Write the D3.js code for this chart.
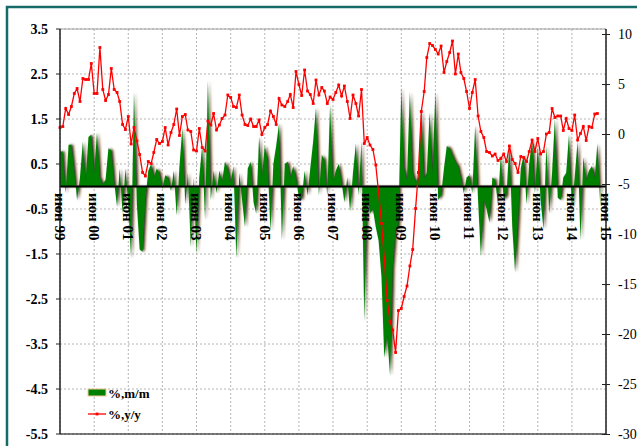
<!DOCTYPE html>
<meta charset="utf-8">
<html>
<body style="margin:0; background-color: white;">
<script src="https://d3js.org/d3.v7.min.js"></script>
<div id="chart"></div>
<script>

// first month of both series: June 1999
var startYear = 1999, startMonth = 5;

// %, m/m (left axis)
var mm = [0.78, 0.78, -0.15, 0.93, 0.93, 0.35, -0.3, 0.2, 1.0, 0.1,
  1.1, 1.15, 0.3, 1.2, 0.2, 0.05, 0.15, 0.85, 0.8, 0.1,
  -0.45, 0.4, -0.6, 0.4, -0.4, -1.6, 2.1, -0.4, -1.4, -1.45,
  -0.3, 0.35, 0.5, 0.2, 0.4, 0.3, -0.05, 0.25, 0.2, -0.1,
  0.35, -0.65, 0.45, 1.3, -0.4, 0.3, -1.35, 0.2, -1.5, 0.2,
  0.9, -0.75, 2.35, -0.3, 0.35, -0.15, 0.35, 0.1, 0.55, 0.4,
  0.1, 0.45, -1.6, 0.3, -0.3, -0.9, 0.4, 0.55, -0.35, -0.6,
  1.1, 0.2, 0.9, 0.6, -1.0, 0.5, 0.9, 1.4, -1.2, 0.5,
  0.55, 0.2, 0.45, 0.2, -0.25, -0.3, 0.35, -0.2, 0.4, 1.0,
  1.75, -0.2, 0.7, 0.6, -0.2, 1.8, 0.1, 0.35, 0.5, 0.1,
  -0.35, 0.2, -0.55, 0.3, 0.95, -0.2, 1.0, -3.0, -0.2, -0.6,
  -0.5, -0.9, -1.2, -2.0, -3.8, -3.3, -4.2, -1.8, -0.95, -0.9,
  2.2, 0.4, 0.15, 2.1, 0.3, 0.1, 0.2, 1.75, 0.2, 0.3,
  1.65, 0.3, 2.1, -0.3, -0.2, 0.4, 0.9, 0.85, 0.7, 0.55,
  0.45, 0.2, -0.15, 0.2, 0.25, -0.15, 1.35, -0.3, -1.55, -0.3,
  -0.5, -0.8, 0.2, 0.15, -0.4, 0.7, -0.3, -0.2, 0.95, -0.9,
  -1.9, -0.8, 0.4, 0.7, -0.4, 0.5, 1.05, -0.15, 0.9, -0.3,
  -0.95, 0.9, -0.6, 0.3, 1.5, -0.25, -0.3, 0.2, 0.3, 1.15,
  -0.5, 0.2, 1.0, -1.2, 0.65, 0.15, 0.35, 0.45, 0.2, 0.95,
  -0.45];

// %, y/y (right axis)
var yy = [0.7, 0.8, 2.6, 2.0, 2.8, 4.1, 4.6, 3.3, 5.6, 5.5,
  5.5, 7.1, 4.1, 4.1, 8.7, 4.5, 3.4, 4.0, 6.6, 4.5,
  4.2, 3.3, 1.0, 0.5, 1.8, -0.95, 0.7, -0.65, -2.0, -3.8,
  -4.15, -2.7, -2.9, -1.8, -0.5, -0.9, -0.7, 0.7, -1.05, 0.2,
  1.0, 2.55, -0.1, 1.8, 2.0, 0.45, 0.3, -1.55, -1.65, 0.6,
  -1.3, -1.65, 1.35, 0.95, 2.1, 0.45, 0.95, 1.6, 1.95, 3.95,
  3.7, 2.8, 2.7, 3.95, 1.95, 1.0, 0.9, 1.55, 0.8, 0.8,
  1.45, 0.0, 0.7, 1.0, 2.35, 1.8, 1.0, 3.6, 2.95, 2.8,
  3.3, 4.0, 2.7, 6.3, 5.0, 3.9, 6.45, 4.35, 4.0, 3.1,
  5.45, 3.95, 4.7, 4.35, 3.1, 3.75, 3.5, 4.2, 4.95, 3.85,
  4.85, 3.3, 1.6, 3.95, 3.1, 1.85, 4.5, -0.9, -0.3, -1.05,
  -1.5, -3.05, -5.8, -8.9, -12.4, -16.6, -18.7, -19.55, -21.8, -17.6,
  -17.4, -16.2, -15.15, -13.15, -11.5, -7.4, -3.8, 2.3, 4.3, 7.7,
  9.1, 8.9, 8.5, 8.05, 8.85, 6.2, 7.3, 8.2, 9.35, 6.05,
  8.05, 6.2, 5.6, 4.3, 2.6, 4.2, 5.5, 1.85, 0.3, -0.3,
  -1.7, -1.8, -2.15, -1.95, -2.6, -2.4, -1.95, -2.7, -1.15, -2.5,
  -2.9, -3.8, -2.2, -2.3, -2.7, -1.7, -0.55, -1.7, -0.4, -1.95,
  -1.7, 0.05, 0.2, 2.6, 1.7, 1.85, 1.85, 0.4, 1.6, 0.6,
  0.4, 1.95, -0.55, 0.1, 0.8, -0.6, 0.8, 0.7, 2.05, 2.1];

var leftTicks = [3.5, 2.5, 1.5, 0.5, -0.5, -1.5, -2.5, -3.5, -4.5, -5.5];
var rightTicks = [10, 5, 0, -5, -10, -15, -20, -25, -30];
var xLabels = ["июн 99", "июн 00", "июн 01", "июн 02", "июн 03", "июн 04", "июн 05",
  "июн 06", "июн 07", "июн 08", "июн 09", "июн 10", "июн 11", "июн 12",
  "июн 13", "июн 14", "июн 15"];

var W = 637, H = 446;
var pL = 60, pR = 606, pT = 29, pB = 434;
var serif = "'Liberation Serif', 'Times New Roman', serif";

var svg = d3.select("#chart").append("svg")
  .attr("width", W).attr("height", H)
  .style("display", "block");

var month = function(i) { return new Date(startYear, startMonth + i, 1); };

var x = d3.scaleTime()
  .domain([month(0), month(192)])
  .range([pL, pR]);
var yL = d3.scaleLinear().domain([-5.5, 3.5]).range([pB, pT]);
var yR = d3.scaleLinear().domain([-30, 10]).range([434.5, 34.5]);

// frame
svg.append("rect")
  .attr("x", 7).attr("y", 7).attr("width", 650).attr("height", 460)
  .attr("fill", "white").attr("stroke", "#166b68").attr("stroke-width", 2.5);

// gridlines
svg.append("g").selectAll("line").data(leftTicks).enter().append("line")
  .attr("x1", pL).attr("x2", pR)
  .attr("y1", function(d) { return yL(d); }).attr("y2", function(d) { return yL(d); })
  .attr("stroke", "#b4b4b4").attr("stroke-dasharray", "2,2");

svg.append("g").selectAll("line").data(xLabels).enter().append("line")
  .attr("x1", function(d, k) { return x(month(12 * k)); })
  .attr("x2", function(d, k) { return x(month(12 * k)); })
  .attr("y1", pT).attr("y2", pB)
  .attr("stroke", "#b4b4b4").attr("stroke-dasharray", "2,2");

// m/m area with its shadows
var area = function(dx) {
  return d3.area()
    .x(function(d, i) { return x(month(i)) + dx; })
    .y0(yL(0))
    .y1(function(d) { return yL(d); });
};

var defs = svg.append("defs");
defs.append("filter").attr("id", "soft")
  .append("feGaussianBlur").attr("stdDeviation", 0.8);

svg.append("path").datum(mm)
  .attr("d", area(3.2))
  .attr("fill", "#f2d3ad")
  .attr("filter", "url(#soft)");
svg.append("path").datum(mm)
  .attr("d", area(1.5))
  .attr("fill", "#2a2a2a")
  .attr("filter", "url(#soft)");
svg.append("path").datum(mm)
  .attr("d", area(0))
  .attr("fill", "#008000");

// zero line
svg.append("line")
  .attr("x1", pL).attr("x2", pR)
  .attr("y1", yL(0)).attr("y2", yL(0))
  .attr("stroke", "black").attr("stroke-width", 2);

// y/y line
var line = d3.line()
  .x(function(d, i) { return x(month(i)); })
  .y(function(d) { return yR(d); });

svg.append("path").datum(yy)
  .attr("d", line)
  .attr("fill", "none")
  .attr("stroke", "#ff0000")
  .attr("stroke-width", 1.3);

svg.append("g").selectAll("rect").data(yy).enter().append("rect")
  .attr("x", function(d, i) { return x(month(i)) - 1.4; })
  .attr("y", function(d) { return yR(d) - 1.4; })
  .attr("width", 2.8).attr("height", 2.8)
  .attr("fill", "#ff0000");

// axes
svg.append("line")
  .attr("x1", pL).attr("x2", pR).attr("y1", pT).attr("y2", pT)
  .attr("stroke", "#a0a0a0");
svg.append("line")
  .attr("x1", pL).attr("x2", pR).attr("y1", pB).attr("y2", pB)
  .attr("stroke", "black");

var gL = svg.append("g");
gL.append("line")
  .attr("x1", pL).attr("x2", pL).attr("y1", pT).attr("y2", pB)
  .attr("stroke", "#222").attr("stroke-width", 1.5);
gL.selectAll("line.t").data(leftTicks).enter().append("line")
  .attr("class", "t")
  .attr("x1", pL - 4).attr("x2", pL)
  .attr("y1", function(d) { return yL(d); }).attr("y2", function(d) { return yL(d); })
  .attr("stroke", "#222");
gL.selectAll("text").data(leftTicks).enter().append("text")
  .attr("x", 48)
  .attr("y", function(d) { return yL(d); })
  .attr("dy", "0.35em")
  .attr("text-anchor", "end")
  .attr("font-family", serif)
  .attr("font-weight", "bold")
  .attr("font-size", "14px")
  .text(function(d) { return d3.format(".1f")(d).replace("−", "-"); });

var gR = svg.append("g");
gR.append("line")
  .attr("x1", pR).attr("x2", pR).attr("y1", pT).attr("y2", pB)
  .attr("stroke", "#222").attr("stroke-width", 1.5);
gR.selectAll("line.t").data(rightTicks).enter().append("line")
  .attr("class", "t")
  .attr("x1", pR - 4).attr("x2", pR + 4)
  .attr("y1", function(d) { return yR(d); }).attr("y2", function(d) { return yR(d); })
  .attr("stroke", "#222");
gR.selectAll("text").data(rightTicks).enter().append("text")
  .attr("x", 618)
  .attr("y", function(d) { return yR(d); })
  .attr("dy", "0.35em")
  .attr("font-family", serif)
  .attr("font-size", "14px")
  .text(function(d) { return d; });

// rotated month labels
svg.append("g").selectAll("text").data(xLabels).enter().append("text")
  .attr("transform", function(d, k) {
    return "translate(" + x(month(12 * k)) + "," + 193 + ") rotate(90)";
  })
  .attr("dy", "0.35em")
  .attr("font-family", serif)
  .attr("font-weight", "bold")
  .attr("font-size", "15px")
  .text(function(d) { return d; });

// legend
var lg = svg.append("g");
lg.append("rect")
  .attr("x", 88).attr("y", 389).attr("width", 18).attr("height", 7)
  .attr("fill", "#008000").attr("stroke", "#f2c99a").attr("stroke-width", 1);
lg.append("text")
  .attr("x", 108).attr("y", 398)
  .attr("font-family", serif).attr("font-weight", "bold").attr("font-size", "13px")
  .text("%,m/m");
lg.append("line")
  .attr("x1", 88).attr("x2", 106).attr("y1", 414).attr("y2", 414)
  .attr("stroke", "#ff0000").attr("stroke-width", 1.3);
lg.append("rect")
  .attr("x", 95.6).attr("y", 412.6).attr("width", 2.8).attr("height", 2.8)
  .attr("fill", "#ff0000");
lg.append("text")
  .attr("x", 108).attr("y", 419)
  .attr("font-family", serif).attr("font-weight", "bold").attr("font-size", "13px")
  .text("%,y/y");

</script>
</body>
</html>
